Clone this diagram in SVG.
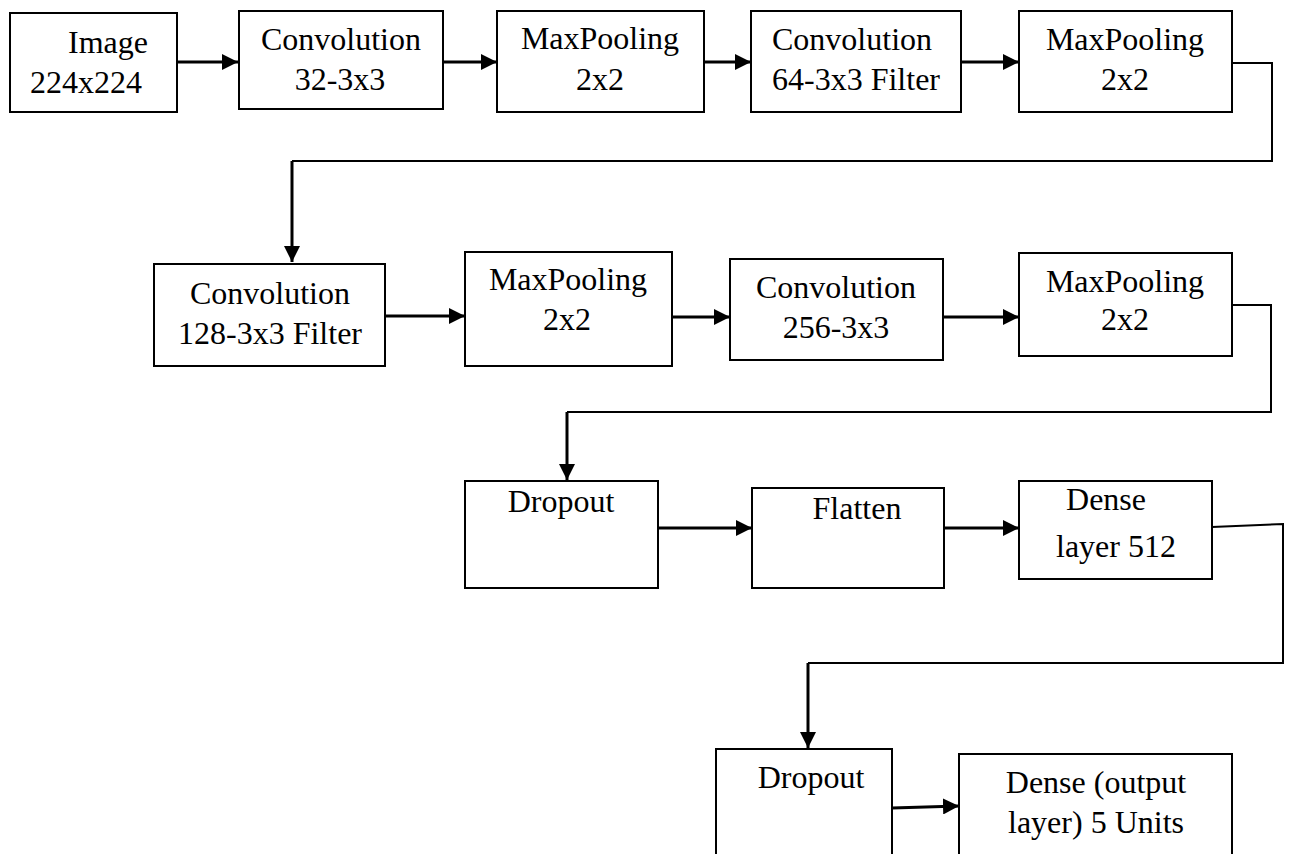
<svg xmlns="http://www.w3.org/2000/svg" width="1289" height="854" viewBox="0 0 1289 854">
<style>
.box{fill:#fff;stroke:#000;stroke-width:2}
.t{font-family:"Liberation Serif","Times New Roman",serif;font-size:32px;fill:#000;text-anchor:middle}
.s{text-anchor:start}
.a{fill:none;stroke:#000;stroke-width:3}
.e{fill:none;stroke:#000;stroke-width:2}
</style>
<defs>
<marker id="ah" markerUnits="userSpaceOnUse" markerWidth="16" markerHeight="16" viewBox="0 0 16 16" refX="16" refY="8" orient="auto">
<path d="M0,0 L16,8 L0,16 Z" fill="#000"/>
</marker>
</defs>
<rect width="1289" height="854" fill="#fff"/>
<g id="connectors">
<line class="a" x1="177" y1="62" x2="238" y2="62" marker-end="url(#ah)"/>
<line class="a" x1="443" y1="62" x2="497" y2="62" marker-end="url(#ah)"/>
<line class="a" x1="704" y1="62" x2="751" y2="62" marker-end="url(#ah)"/>
<line class="a" x1="961" y1="62" x2="1019" y2="62" marker-end="url(#ah)"/>
<polyline class="e" points="1232,63 1272,63 1272,161 292,161"/>
<line class="a" x1="292" y1="161" x2="292" y2="262" marker-end="url(#ah)"/>
<line class="a" x1="385" y1="316" x2="465" y2="316" marker-end="url(#ah)"/>
<line class="a" x1="672" y1="317" x2="730" y2="317" marker-end="url(#ah)"/>
<line class="a" x1="943" y1="317" x2="1019" y2="317" marker-end="url(#ah)"/>
<polyline class="e" points="1232,305 1271,305 1271,412 567,412"/>
<line class="a" x1="567" y1="412" x2="567" y2="480" marker-end="url(#ah)"/>
<line class="a" x1="658" y1="528" x2="752" y2="528" marker-end="url(#ah)"/>
<line class="a" x1="944" y1="528" x2="1019" y2="528" marker-end="url(#ah)"/>
<polyline class="e" points="1212,527 1283,524 1283,663 808,663"/>
<line class="a" x1="808" y1="663" x2="808" y2="748" marker-end="url(#ah)"/>
<line class="a" x1="892" y1="808" x2="959" y2="806" marker-end="url(#ah)"/>
</g>
<g id="n_image"><rect class="box" x="10" y="13" width="167" height="99"/><text class="t" x="108" y="53">Image</text><text class="t s" x="30" y="93">224x224</text></g>
<g id="n_conv32"><rect class="box" x="239" y="11" width="204" height="98"/><text class="t" x="341" y="50">Convolution</text><text class="t" x="340" y="90">32-3x3</text></g>
<g id="n_pool1"><rect class="box" x="497" y="11" width="207" height="101"/><text class="t" x="600" y="49">MaxPooling</text><text class="t" x="600" y="90">2x2</text></g>
<g id="n_conv64"><rect class="box" x="751" y="11" width="210" height="101"/><text class="t s" x="772" y="50">Convolution</text><text class="t s" x="772" y="90">64-3x3 Filter</text></g>
<g id="n_pool2"><rect class="box" x="1019" y="11" width="213" height="101"/><text class="t" x="1125" y="50">MaxPooling</text><text class="t" x="1125" y="90">2x2</text></g>
<g id="n_conv128"><rect class="box" x="154" y="264" width="231" height="102"/><text class="t" x="270" y="304">Convolution</text><text class="t" x="270" y="344">128-3x3 Filter</text></g>
<g id="n_pool3"><rect class="box" x="465" y="252" width="207" height="114"/><text class="t" x="568" y="290">MaxPooling</text><text class="t" x="567" y="330">2x2</text></g>
<g id="n_conv256"><rect class="box" x="730" y="259" width="213" height="101"/><text class="t" x="836" y="298">Convolution</text><text class="t" x="836" y="338">256-3x3</text></g>
<g id="n_pool4"><rect class="box" x="1019" y="253" width="213" height="103"/><text class="t" x="1125" y="292">MaxPooling</text><text class="t" x="1125" y="330">2x2</text></g>
<g id="n_drop1"><rect class="box" x="465" y="481" width="193" height="107"/><text class="t" x="561" y="512">Dropout</text></g>
<g id="n_flatten"><rect class="box" x="752" y="488" width="192" height="100"/><text class="t" x="857" y="519">Flatten</text></g>
<g id="n_dense512"><rect class="box" x="1019" y="481" width="193" height="98"/><text class="t" x="1106" y="510">Dense</text><text class="t" x="1116" y="557">layer 512</text></g>
<g id="n_drop2"><rect class="box" x="716" y="749" width="176" height="120"/><text class="t" x="811" y="788">Dropout</text></g>
<g id="n_out"><rect class="box" x="959" y="754" width="273" height="120"/><text class="t" x="1096" y="793">Dense (output</text><text class="t" x="1096" y="833">layer) 5 Units</text></g>
</svg>
